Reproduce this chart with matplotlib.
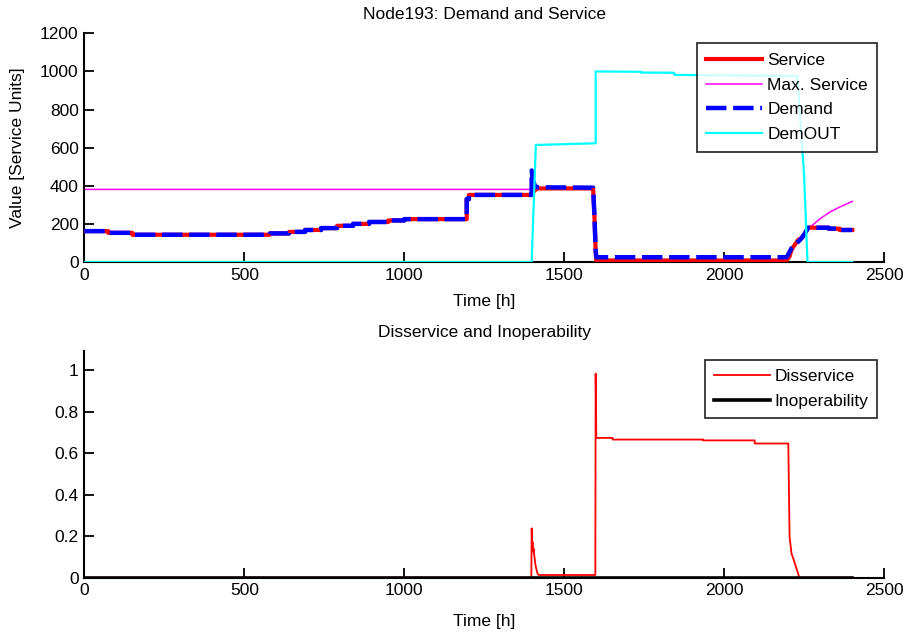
import matplotlib
matplotlib.use("Agg")
import matplotlib.pyplot as plt

plt.rcParams['font.family'] = ['Liberation Sans', 'DejaVu Sans']

# ---- Top panel data (time [h], value [service units]) ----
demand_t = [0, 75, 75, 150, 150, 580, 580, 640, 640, 690, 690, 740, 740, 790, 790,
            840, 840, 890, 890, 950, 950, 1000, 1000, 1195, 1195, 1202, 1202, 1398,
            1398, 1402, 1408, 1415, 1590, 1594, 1598, 1600, 2195, 2210, 2226, 2241,
            2252, 2262, 2326, 2326, 2360, 2360, 2400]
demand_v = [162, 162, 153, 153, 143, 143, 150, 150, 158, 158, 168, 168, 178, 178, 190,
            190, 200, 200, 210, 210, 218, 218, 225, 225, 330, 330, 352, 352,
            480, 430, 400, 392, 390, 250, 60, 25, 25, 72, 98, 124,
            150, 180, 180, 175, 175, 168, 168]

service_t = [0, 75, 75, 150, 150, 580, 580, 640, 640, 690, 690, 740, 740, 790, 790,
             840, 840, 890, 890, 950, 950, 1000, 1000, 1195, 1195, 1202, 1202, 1398,
             1402, 1408, 1415, 1590, 1594, 1598, 1600, 2195, 2204, 2210, 2220, 2232,
             2241, 2252, 2262, 2326, 2326, 2360, 2360, 2400]
service_v = [162, 162, 153, 153, 143, 143, 150, 150, 158, 158, 168, 168, 178, 178, 190,
             190, 200, 200, 210, 210, 218, 218, 225, 225, 330, 330, 352, 352,
             365, 375, 386, 386, 248, 58, 8, 8, 30, 64, 90, 118,
             124, 150, 180, 180, 175, 175, 168, 168]

maxserv_t = [0, 1398, 1402, 1408, 1415, 1590, 1594, 1598, 1600, 2195, 2204, 2210, 2220,
             2232, 2241, 2252, 2262, 2270, 2300, 2330, 2360, 2400]
maxserv_v = [381, 381, 365, 375, 386, 386, 248, 58, 8, 8, 30, 64, 90,
             118, 124, 150, 180, 186, 228, 262, 288, 318]

demout_t = [0, 1398, 1411, 1598, 1598, 1740, 1740, 1843, 1843, 2228, 2249, 2260, 2400]
demout_v = [0, 0, 614, 623, 1000, 998, 994, 993, 982, 975, 466, 0, 0]

# ---- Bottom panel data ----
dis_t = [0, 1397, 1398, 1400, 1401, 1403, 1404, 1406, 1410, 1416, 1420, 1597, 1598,
         1600, 1651, 1651, 1934, 1934, 2095, 2095, 2200, 2204, 2210, 2220, 2232, 2235, 2400]
dis_v = [0, 0, 0.238, 0.162, 0.17, 0.125, 0.14, 0.11, 0.06, 0.021, 0.013, 0.013, 0.984,
         0.674, 0.674, 0.666, 0.666, 0.662, 0.662, 0.647, 0.647, 0.197, 0.117, 0.072, 0.013, 0, 0]

inop_t = [0, 2400]
inop_v = [0, 0]

W, H = 904, 632
fig = plt.figure(figsize=(W / 100, H / 100), dpi=100)

def px_axes(x0, x1, ytop, ybot):
    return fig.add_axes([x0 / W, 1 - ybot / H, (x1 - x0) / W, (ybot - ytop) / H])

FS = 12.5

def style(ax):
    for s in ['top', 'right']:
        ax.spines[s].set_visible(False)
    for s in ['left', 'bottom']:
        ax.spines[s].set_linewidth(1.5)
    ax.tick_params(direction='in', length=7, width=1.3, labelsize=FS, pad=4)

# Top
ax1 = px_axes(84.3, 884.3, 33.3, 262)
ax1.plot(service_t, service_v, color='red', lw=3, label='Service', zorder=3)
ax1.plot(maxserv_t, maxserv_v, color='magenta', lw=1.1, label='Max. Service', zorder=2)
ax1.plot(demand_t, demand_v, color='blue', lw=3.2, ls=(0, (4.6, 1.5)), label='Demand', zorder=4)
ax1.plot(demout_t, demout_v, color='cyan', lw=1.6, label='DemOUT', zorder=5)
ax1.set_xlim(0, 2500)
ax1.set_ylim(0, 1200)
ax1.set_xticks([0, 500, 1000, 1500, 2000, 2500])
ax1.set_yticks([0, 200, 400, 600, 800, 1000, 1200])
style(ax1)
ax1.set_title('Node193: Demand and Service', fontsize=FS, pad=10)
ax1.set_xlabel('Time [h]', fontsize=FS, labelpad=8)
ax1.set_ylabel('Value [Service Units]', fontsize=FS, labelpad=11)
leg1 = ax1.legend(loc='upper right', bbox_to_anchor=((877.3 - 84.3) / 800, (262 - 43.3) / 228.7),
                  fontsize=FS, frameon=True, fancybox=False, edgecolor='black',
                  handlelength=3.2, borderpad=0.55, labelspacing=0.55, handletextpad=0.3,
                  borderaxespad=0)
leg1.get_frame().set_linewidth(1.3)
leg1.set_zorder(10)

# Bottom
ax2 = px_axes(84.3, 884.3, 351, 577.7)
ax2.plot(dis_t, dis_v, color='red', lw=1.3, label='Disservice', zorder=3)
ax2.plot(inop_t, inop_v, color='black', lw=2.6, label='Inoperability', zorder=4)
ax2.set_xlim(0, 2500)
ax2.set_ylim(0, 1.093)
ax2.set_xticks([0, 500, 1000, 1500, 2000, 2500])
ax2.set_yticks([0, 0.2, 0.4, 0.6, 0.8, 1])
ax2.set_yticklabels(['0', '0.2', '0.4', '0.6', '0.8', '1'])
style(ax2)
ax2.set_title('Disservice and Inoperability', fontsize=FS, pad=10)
ax2.set_xlabel('Time [h]', fontsize=FS, labelpad=11)
leg2 = ax2.legend(loc='upper right', bbox_to_anchor=((877.3 - 84.3) / 800, (577.7 - 360) / 226.7),
                  fontsize=FS, frameon=True, fancybox=False, edgecolor='black',
                  handlelength=3.2, borderpad=0.5, labelspacing=0.6, handletextpad=0.3,
                  borderaxespad=0)
leg2.get_frame().set_linewidth(1.3)

fig.savefig('out.png', dpi=100)
